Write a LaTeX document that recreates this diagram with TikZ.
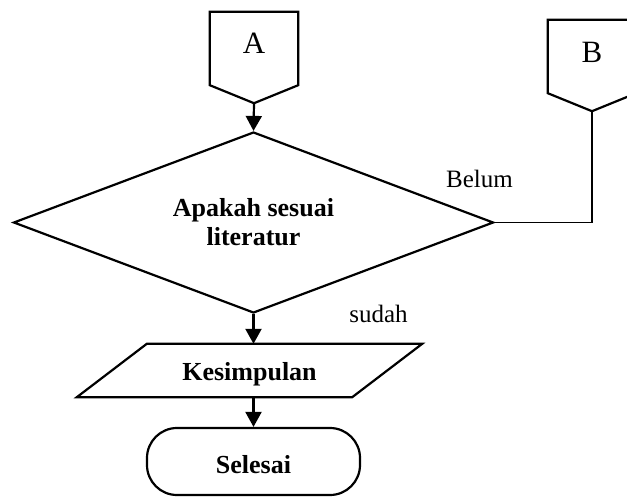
\documentclass[tikz,border=0pt]{standalone}
\usepackage{fontspec}
\setmainfont{Liberation Serif}
\usetikzlibrary{shapes.geometric,arrows.meta,calc}
\begin{document}
\begin{tikzpicture}[x=1pt,y=-1pt,
  outline/.style={draw=black,line width=2.2pt,line join=miter},
  flow/.style={line width=2.2pt,-{Triangle[length=15pt,width=16pt]}},
  link/.style={line width=1.2pt},
  connbox/.style={minimum width=88pt,minimum height=73pt,inner sep=0pt,
    font=\fontsize{31}{36}\selectfont,text depth=0pt},
  boldtext/.style={font=\bfseries\fontsize{26}{29}\selectfont},
  plaintext/.style={font=\fontsize{25}{30}\selectfont,inner sep=0pt,anchor=base},
]
\useasboundingbox (0,0) rectangle (627,496);
\clip (0,0) rectangle (627,496);

% off-page connector A
\node[connbox,text height=9pt] (A) at (254,48.5) {A};
\coordinate (Atip) at ($(A.south)+(0,18)$);
\draw[outline] (A.north west) -- (A.north east) -- (A.south east)
  -- (Atip) -- (A.south west) -- cycle;

% off-page connector B
\node[connbox,text height=11pt] (B) at (592,56.5) {B};
\coordinate (Btip) at ($(B.south)+(0,18)$);
\draw[outline] (B.north west) -- (B.north east) -- (B.south east)
  -- (Btip) -- (B.south west) -- cycle;

% decision
\node[outline,shape=diamond,shape aspect=2.65,minimum width=480pt,
  minimum height=181pt,inner sep=0pt,align=center,boldtext]
  (dec) at (253.5,222.5) {Apakah sesuai\\literatur};

% output (parallelogram)
\node[boldtext,minimum width=275pt,minimum height=53pt,inner sep=0pt,
  text height=24pt,text depth=5pt] (kes) at (249.5,370.5) {Kesimpulan};
\draw[outline] ($(kes.north west)+(35,0)$) -- ($(kes.north east)+(35,0)$)
  -- ($(kes.south east)-(35,0)$) -- ($(kes.south west)-(35,0)$) -- cycle;

% terminator
\node[outline,rectangle,rounded corners=30pt,minimum width=213pt,
  minimum height=67pt,inner sep=0pt,boldtext,text height=23pt,text depth=0pt]
  (term) at (253.5,461.5) {Selesai};

% branch labels
\node[plaintext] (belum) at (479.5,187) {Belum};
\node[plaintext] (sudah) at (378.5,322) {sudah};

% connectors
\draw[flow] (Atip) -- (dec.north);
\draw[flow] (dec.south) -- (dec.south |- kes.north);
\draw[flow] (term.north |- kes.south) -- (term.north);
\draw[link] (Btip) |- (dec.east);
\end{tikzpicture}
\end{document}
